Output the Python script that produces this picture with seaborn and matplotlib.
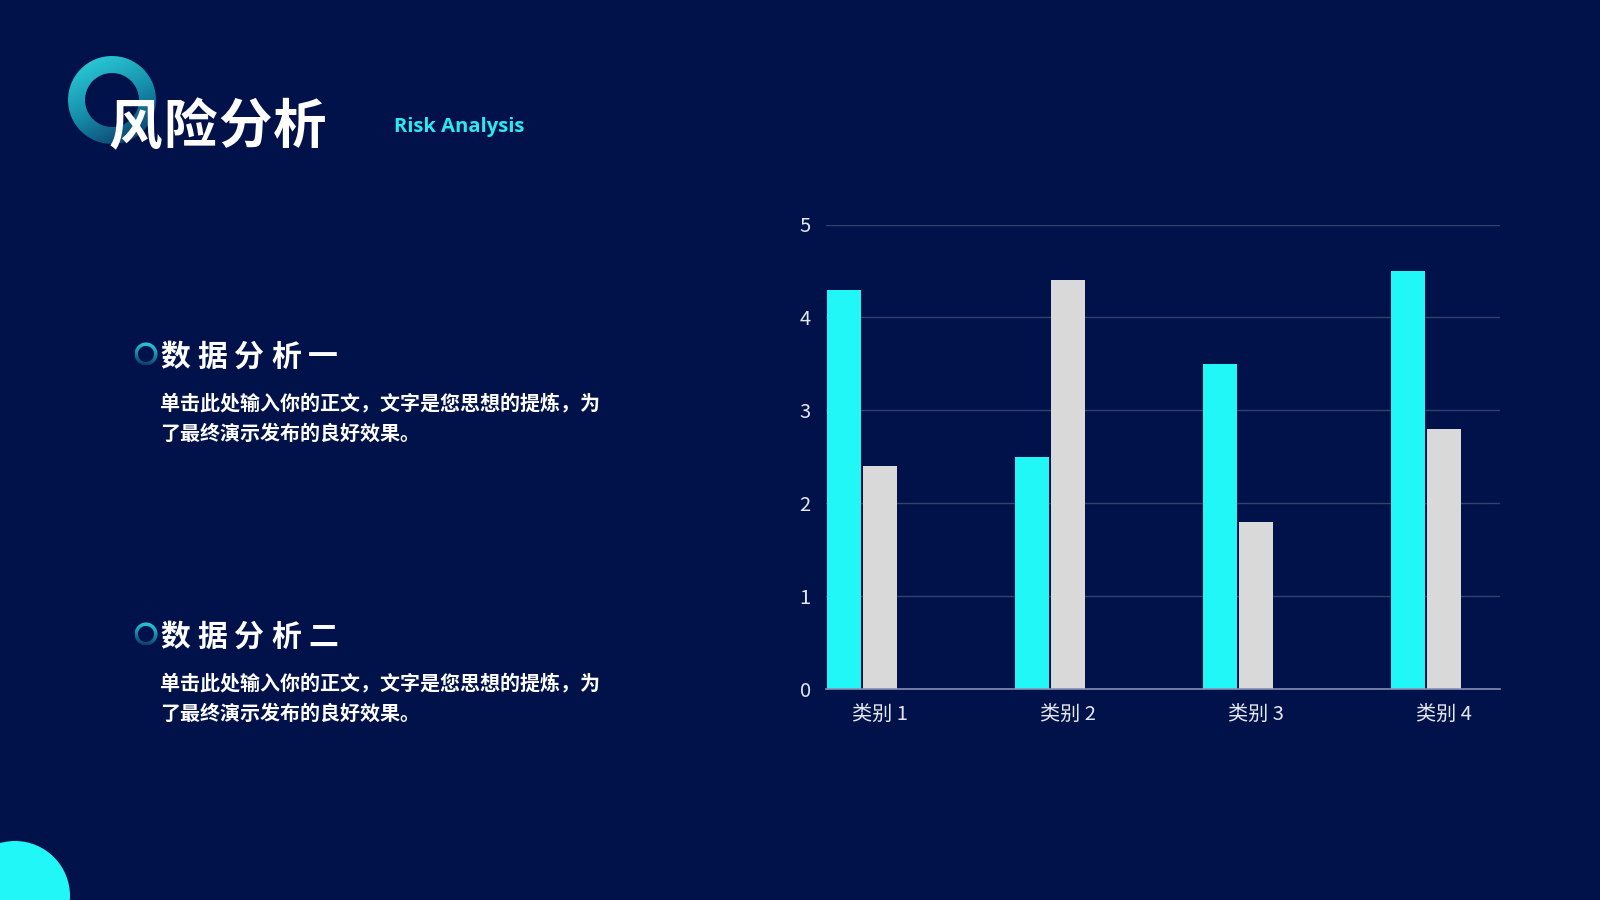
import numpy as np
import pandas as pd
import seaborn as sns
import matplotlib.pyplot as plt
from matplotlib.patches import Wedge, Circle
from matplotlib.colors import LinearSegmentedColormap
from matplotlib.transforms import ScaledTranslation

# chart data
categories = ['类别 1', '类别 2', '类别 3', '类别 4']
series_names = ['系列 1', '系列 2']
series1 = [4.3, 2.5, 3.5, 4.5]
series2 = [2.4, 4.4, 1.8, 2.8]
y_ticks = [0, 1, 2, 3, 4, 5]

# page text
title_cn = '风险分析'
title_en = 'Risk Analysis'
headings = ['数据分析一', '数据分析二']
body_lines = ['单击此处输入你的正文，文字是您思想的提炼，为', '了最终演示发布的良好效果。']

BG = '#001249'
CYAN = '#22F7F7'
GREY = '#D9D9D9'

sns.set_style('dark')
plt.rcParams['font.family'] = ['Noto Sans CJK SC', 'DejaVu Sans']

df = pd.DataFrame({
    'cat': categories * 2,
    'series': [series_names[0]] * 4 + [series_names[1]] * 4,
    'value': series1 + series2,
})

fig = plt.figure(figsize=(16, 9), dpi=100)
fig.patch.set_facecolor(BG)

# decoration layer in pixel coords (1600 x 900, y down)
deco = fig.add_axes([0, 0, 1, 1])
deco.set_xlim(0, 1600)
deco.set_ylim(900, 0)
deco.axis('off')
deco.set_facecolor('none')


def gradient_ring(ax, cx, cy, r_out, r_in, colors, angle_deg):
    n = 200
    xs = np.linspace(-1, 1, n)
    X, Y = np.meshgrid(xs, xs)
    a = np.deg2rad(angle_deg)
    t = X * np.cos(a) + Y * np.sin(a)
    cmap = LinearSegmentedColormap.from_list('g', colors)
    im = ax.imshow(t, cmap=cmap, extent=(cx - r_out, cx + r_out, cy + r_out, cy - r_out),
                   origin='upper', interpolation='bilinear', zorder=2)
    ring = Wedge((cx, cy), r_out, 0, 360, width=r_out - r_in, fill=False, lw=0)
    ax.add_patch(ring)
    im.set_clip_path(ring)


def spaced_text(ax, x, y, s, pitch, **kw):
    for i, ch in enumerate(s):
        ax.text(x + i * pitch, y, ch, ha='left', va='center', **kw)


gradient_ring(deco, 112, 100, 44, 27, ['#2FD6E0', '#1690AC', '#0B2F60'], 65)
deco.add_patch(Circle((15, 896), 55, color=CYAN, lw=0, zorder=2))

spaced_text(deco, 109, 128, title_cn, 54.5, color='white', fontsize=38.5,
            fontweight='bold', zorder=3)
deco.text(394, 127, title_en, color='#2CE8F0', fontsize=14.5, fontweight='bold',
          family=['Open Sans', 'DejaVu Sans'], ha='left', va='center')

for hy, heading in zip([354, 634], headings):
    gradient_ring(deco, 146, hy, 11.5, 8, ['#2FD6E0', '#1690AC', '#0B2F60'], 100)
    spaced_text(deco, 160, hy + 3, heading, 37, color='white', fontsize=21.5,
                fontweight='bold')
    for k, line in enumerate(body_lines):
        deco.text(160, hy + 49 + k * 30.6, line, color='white', fontsize=14.4,
                  fontweight='bold', ha='left', va='center')

# bar chart
ax = fig.add_axes([826 / 1600, 1 - 689 / 900, (1500 - 826) / 1600, (689 - 224.5) / 900])
ax.set_facecolor('none')
sns.barplot(data=df, x='cat', y='value', hue='series', palette=[CYAN, GREY],
            saturation=1, width=0.38, gap=0.06, linewidth=0, legend=False, ax=ax)

ax.set_xlim(-0.191, 3.394)
ax.set_ylim(0, 5)
ax.set_yticks(y_ticks)
ax.set_xlabel('')
ax.set_ylabel('')
ax.grid(False)
for v in y_ticks[1:]:
    ax.axhline(v, color='#34416F', lw=1, zorder=0)
for side in ['top', 'right', 'left']:
    ax.spines[side].set_visible(False)
ax.spines['bottom'].set_color('#8891B3')
ax.spines['bottom'].set_linewidth(1.2)
ax.tick_params(axis='both', length=0, colors='#E6E8F0', labelsize=14.5)
ax.tick_params(axis='y', pad=11)
ax.tick_params(axis='x', pad=10.5)
shift = ScaledTranslation(0.185, 0, fig.dpi_scale_trans)
for lab in ax.get_xticklabels():
    lab.set_transform(lab.get_transform() + shift)

fig.savefig('out.png', dpi=100, facecolor=BG)
